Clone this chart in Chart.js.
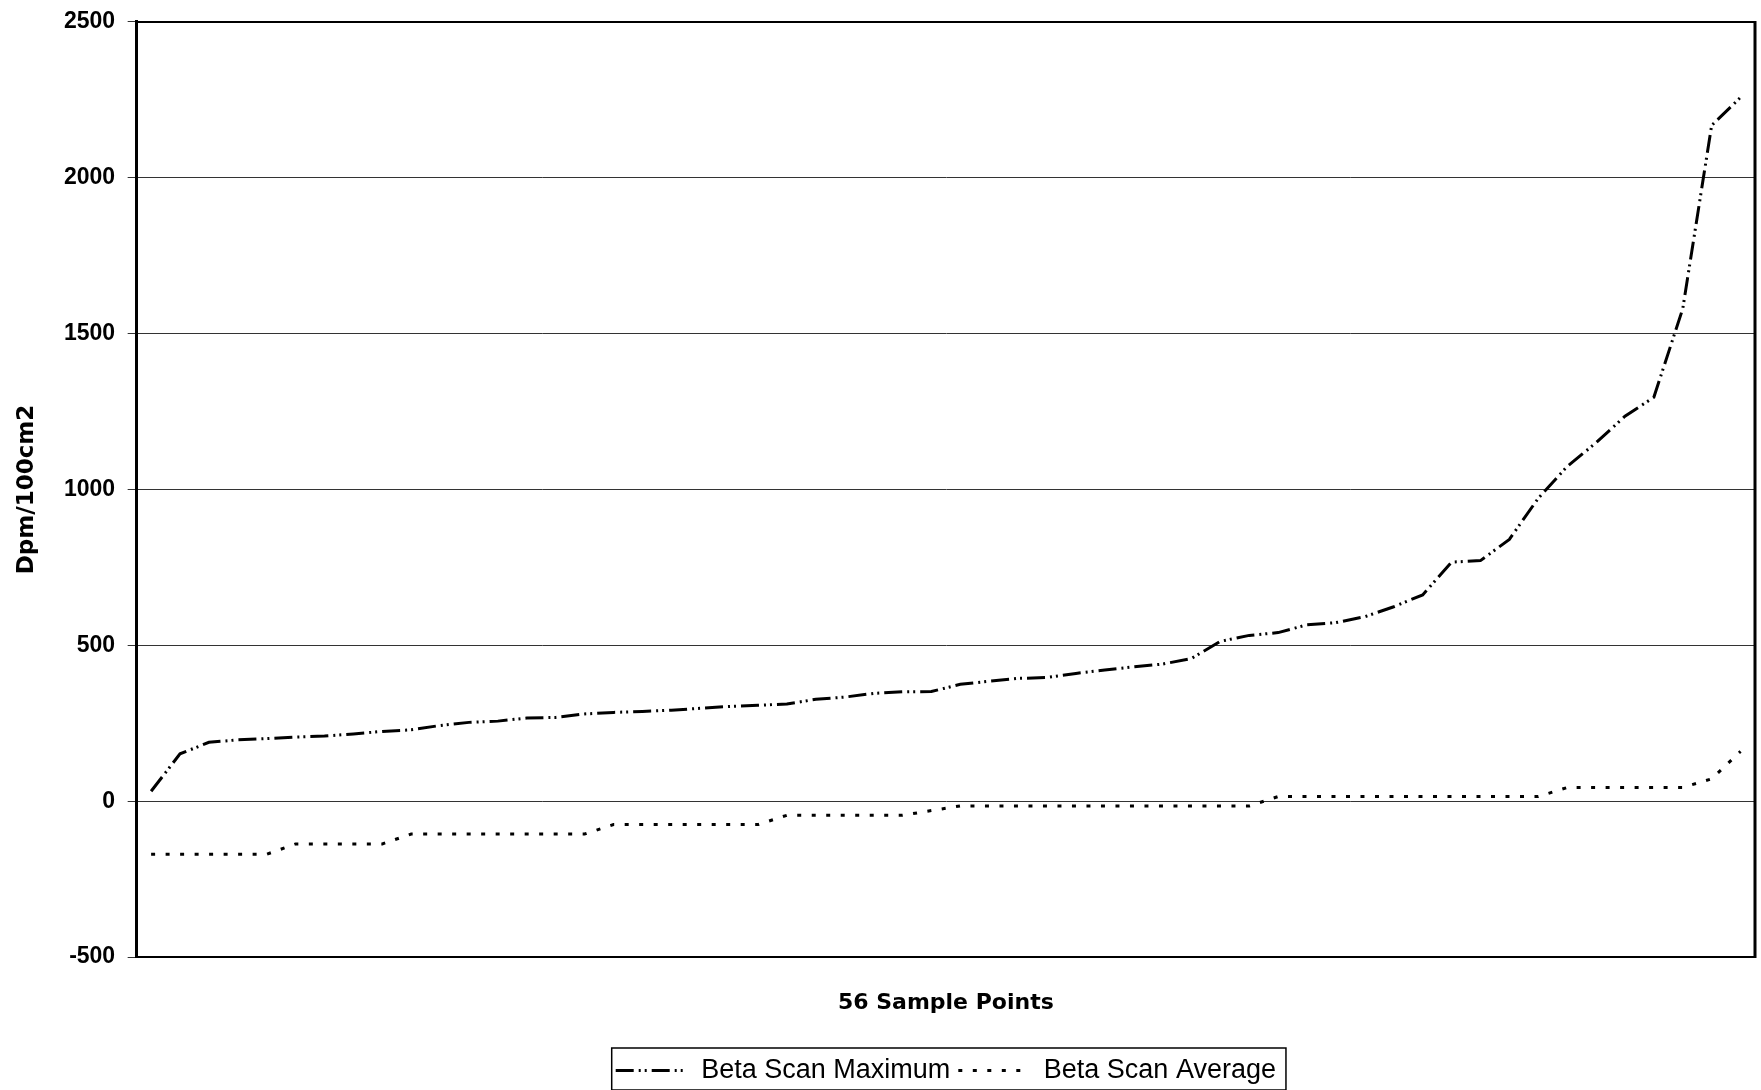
<!DOCTYPE html>
<html>
<head>
<meta charset="utf-8">
<script src="https://cdn.jsdelivr.net/npm/chart.js@4/dist/chart.umd.min.js"></script>
<style>
  html, body { margin: 0; padding: 0; background: #ffffff; overflow: hidden; }
  #wrap { width: 1761px; height: 1094px; position: relative; }
</style>
</head>
<body>
<div id="wrap"><canvas id="c"></canvas></div>
<script>
// ---- data ----
const samplePoints = [1,2,3,4,5,6,7,8,9,10,11,12,13,14,15,16,17,18,19,20,21,22,23,24,25,26,27,28,
  29,30,31,32,33,34,35,36,37,38,39,40,41,42,43,44,45,46,47,48,49,50,51,52,53,54,55,56];
const betaScanMaximum = [32,152,189,197,201,206,209,216,224,229,243,253,257,267,269,280,285,288,292,298,
  304,308,312,327,334,346,351,352,375,385,394,397,410,421,431,440,458,513,532,541,566,573,592,624,662,
  767,772,840,972,1074,1150,1235,1296,1580,2168,2258];
const betaScanAverage = [-170,-170,-170,-170,-170,-137,-137,-137,-137,-105,-105,-105,-105,-105,-105,-105,
  -75,-75,-75,-75,-75,-75,-45,-45,-45,-45,-45,-30,-15,-15,-15,-15,-15,-15,-15,-15,-15,-15,-15,
  15,15,15,15,15,15,15,15,15,15,44,44,44,44,44,72,160];
const yTicks = [-500, 0, 500, 1000, 1500, 2000, 2500];
const seriesNames = ['Beta Scan Maximum', 'Beta Scan Average'];
const xTitle = '56 Sample Points';
const yTitle = 'Dpm/100cm2';

const framePlugin = {
  id: 'frame',
  afterDraw(chart) {
    const ctx = chart.ctx;
    const a = chart.chartArea;
    ctx.save();
    ctx.strokeStyle = '#000';
    ctx.setLineDash([]);
    ctx.lineWidth = 2;
    ctx.beginPath();
    ctx.moveTo(a.left, a.top);
    ctx.lineTo(a.right, a.top);
    ctx.stroke();
    ctx.lineWidth = 3;
    ctx.beginPath();
    ctx.moveTo(a.right, a.top - 1);
    ctx.lineTo(a.right, a.bottom + 1);
    ctx.stroke();
    // legend border
    const lg = chart.legend;
    if (lg && lg.legendHitBoxes && lg.legendHitBoxes.length) {
      const hb = lg.legendHitBoxes;
      const first = hb[0], last = hb[hb.length - 1];
      const x0 = first.left - 4;
      const x1 = last.left + last.width + 10;
      const y0 = first.top - 9;
      const y1 = first.top + first.height + 6;
      ctx.lineWidth = 1.5;
      ctx.strokeStyle = '#000';
      ctx.strokeRect(x0, y0, x1 - x0, y1 - y0);
    }
    ctx.restore();
  }
};

new Chart(document.getElementById('c'), {
  type: 'line',
  data: {
    labels: samplePoints,
    datasets: [
      {
        label: seriesNames[0],
        data: betaScanMaximum,
        borderColor: '#000',
        backgroundColor: '#000',
        borderWidth: 3,
        borderDash: [18, 5, 2, 4, 2, 5],
        pointRadius: 0,
        tension: 0,
        fill: false
      },
      {
        label: seriesNames[1],
        data: betaScanAverage,
        borderColor: '#000',
        backgroundColor: '#000',
        borderWidth: 3,
        borderDash: [4, 10.5],
        pointRadius: 0,
        tension: 0,
        fill: false
      }
    ]
  },
  options: {
    responsive: true,
    maintainAspectRatio: false,
    animation: false,
    devicePixelRatio: 1,
    layout: { padding: { top: 13, right: 6, bottom: 0, left: 0 } },
    plugins: {
      tooltip: { enabled: false },
      legend: {
        position: 'bottom',
        fullSize: false,
        labels: {
          usePointStyle: true,
          pointStyle: 'line',
          pointStyleWidth: 72,
          boxHeight: 10,
          padding: 8,
          color: '#000',
          font: { family: 'Liberation Sans', size: 27 },
          generateLabels(chart) {
            const items = Chart.defaults.plugins.legend.labels.generateLabels(chart);
            items.forEach((it, i) => {
              const ds = chart.data.datasets[i];
              it.lineDash = ds.borderDash;
              it.lineWidth = ds.borderWidth;
              it.strokeStyle = ds.borderColor;
              it.fillStyle = ds.borderColor;
              it.pointStyle = 'line';
              it.fontColor = '#000';
            });
            return items;
          }
        }
      }
    },
    scales: {
      x: {
        type: 'category',
        offset: true,
        grid: { display: false, drawTicks: false },
        border: { display: true, color: '#000', width: 2 },
        ticks: { display: false },
        title: {
          display: true,
          text: xTitle,
          color: '#000',
          font: { family: 'DejaVu Sans', weight: 'bold', size: 22 },
          padding: { top: 33, bottom: 32.5 }
        }
      },
      y: {
        min: yTicks[0],
        max: yTicks[yTicks.length - 1],
        afterBuildTicks(scale) { scale.ticks = yTicks.map(v => ({ value: v })); },
        grid: { color: '#333', lineWidth: 1, tickLength: 9, drawTicks: true },
        border: { display: true, color: '#000', width: 3 },
        ticks: {
          padding: 12.5,
          color: '#000',
          font: { family: 'Liberation Sans', weight: 'bold', size: 23, lineHeight: 0.82 },
          callback: (v) => String(v)
        },
        title: {
          display: true,
          text: yTitle,
          color: '#000',
          font: { family: 'DejaVu Sans', weight: 'bold', size: 23 },
          padding: { top: 13, bottom: 10.9 }
        }
      }
    }
  },
  plugins: [framePlugin]
});
</script>
</body>
</html>
